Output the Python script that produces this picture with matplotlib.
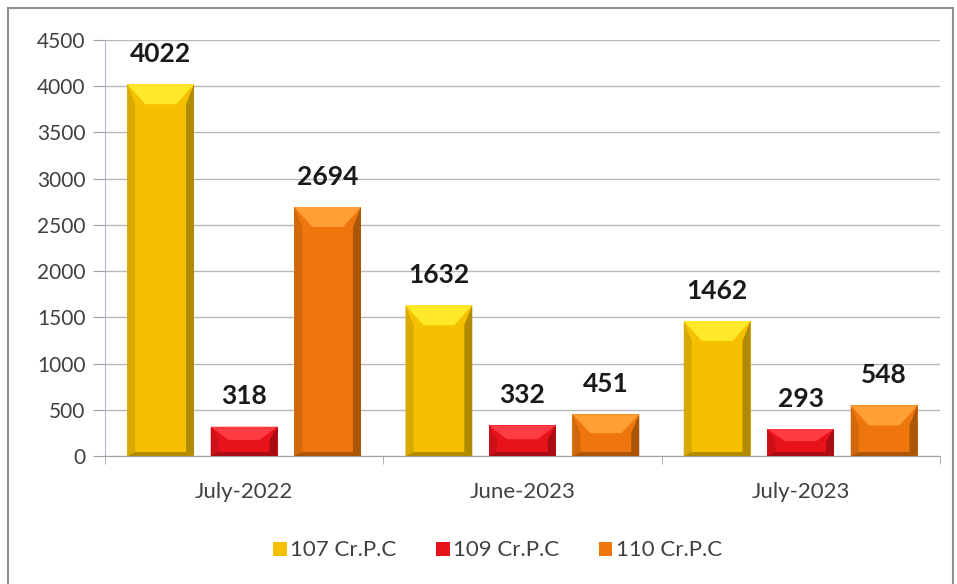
import matplotlib
matplotlib.use("Agg")
import matplotlib.pyplot as plt
import matplotlib.colors as mcolors
from matplotlib.patches import Polygon, Rectangle
from matplotlib.transforms import IdentityTransform
import numpy as np

months = ["July-2022", "June-2023", "July-2023"]
series = ["107 Cr.P.C", "109 Cr.P.C", "110 Cr.P.C"]
v107 = [4022, 1632, 1462]
v109 = [318, 332, 293]
v110 = [2694, 451, 548]
colors = ["#F5C000", "#E8121A", "#EE760C"]

plt.rcParams['font.family'] = ['Lato', 'DejaVu Sans']

fig = plt.figure(figsize=(9.57, 5.84), dpi=100)
ax = fig.add_axes([0.1097, 0.219, 0.8723, 0.7125])

x = np.arange(len(months))
width = 0.24
offset = 0.30
bars = []
for i, (vals, c, name) in enumerate(zip([v107, v109, v110], colors, series)):
    b = ax.bar(x + (i - 1) * offset, vals, width, color=c, label=name, zorder=3)
    bars.append(b)

ax.set_xlim(-0.5, 2.5)
ax.set_ylim(0, 4500)
ax.set_yticks(range(0, 4501, 500))
ax.set_xticks(x)
ax.set_xticklabels(months)
ax.set_xticks([-0.5, 0.5, 1.5, 2.5], minor=True)
ax.tick_params(axis='x', which='major', length=0, pad=19, labelsize=16, labelcolor="#404040")
ax.tick_params(axis='x', which='minor', length=6, color="#A0A0A0")
ax.tick_params(axis='y', length=9, color="#A0A0A0", labelsize=15, labelcolor="#404040", pad=5)
ax.grid(True, axis='y', color="#B8B8B8", linewidth=1, zorder=0)
for s in ["top", "right"]:
    ax.spines[s].set_visible(False)
ax.spines["left"].set_color("#B0B8D0")
ax.spines["bottom"].set_color("#A0A0A0")

# bevel look on each bar, in pixel space
fig.canvas.draw()
for b, c in zip(bars, colors):
    base = np.array(mcolors.to_rgb(c))
    light = np.clip(base + 0.16, 0, 1)
    dark = base * 0.72
    for p in b:
        x0, y0 = ax.transData.transform((p.get_x(), 0))
        x1, y1 = ax.transData.transform((p.get_x() + p.get_width(), p.get_height()))
        d = min(20, (y1 - y0) * 0.45)
        e = 8
        ax.add_patch(Polygon([[x0, y0], [x0 + e, y0 + 4], [x0 + e, y1 - d], [x0, y1]],
                             closed=True, facecolor=base * 0.88, edgecolor='none',
                             transform=IdentityTransform(), zorder=4))
        ax.add_patch(Polygon([[x1, y0], [x1 - e, y0 + 4], [x1 - e, y1 - d], [x1, y1]],
                             closed=True, facecolor=dark, edgecolor='none',
                             transform=IdentityTransform(), zorder=4))
        ax.add_patch(Polygon([[x0, y1], [x1, y1], [x1 - 18, y1 - d], [x0 + 18, y1 - d]],
                             closed=True, facecolor=light, edgecolor='none',
                             transform=IdentityTransform(), zorder=4))
        ax.add_patch(Polygon([[x0, y0], [x1, y0], [x1 - e, y0 + 4], [x0 + e, y0 + 4]],
                             closed=True, facecolor=dark, edgecolor='none',
                             transform=IdentityTransform(), zorder=4))
    for p, v in zip(b, b.datavalues):
        ax.annotate(f"{int(v)}", (p.get_x() + p.get_width() / 2, v), xytext=(0, 16),
                    textcoords="offset points", ha='center', va='baseline',
                    fontsize=19, fontweight='bold', color="#1A1A1A", zorder=5)

leg = fig.legend(loc='lower center', bbox_to_anchor=(0.52, 0.006), ncol=3, frameon=False,
                 fontsize=16, handlelength=0.6, handleheight=0.6, handletextpad=0.15,
                 columnspacing=1.8)
for t in leg.get_texts():
    t.set_color("#404040")

fig.patches.append(Rectangle((8 / 957, -0.01), 945 / 957, 1 - 8 / 584 + 0.01, transform=fig.transFigure,
                             fill=False, edgecolor="#909090", linewidth=1.5))

fig.savefig("out.png", dpi=100)
